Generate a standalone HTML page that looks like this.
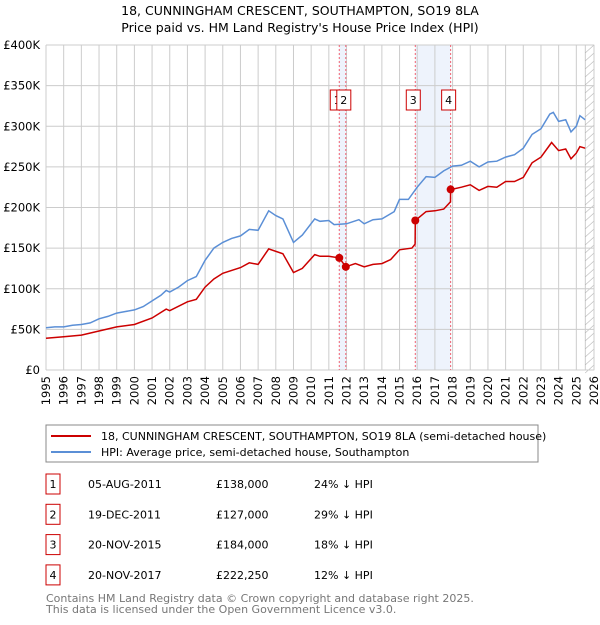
<!DOCTYPE html>
<html><head><meta charset="utf-8"><style>
body{margin:0;background:#fff;font-family:"Liberation Sans","DejaVu Sans",sans-serif;}
svg text{font-family:"DejaVu Sans","Liberation Sans",sans-serif;}
</style></head><body>
<svg id="c" width="600" height="620" xmlns="http://www.w3.org/2000/svg">
<text x="300" y="15" text-anchor="middle" font-size="12.5">18, CUNNINGHAM CRESCENT, SOUTHAMPTON, SO19 8LA</text>
<text x="300" y="32" text-anchor="middle" font-size="12.5">Price paid vs. HM Land Registry's House Price Index (HPI)</text>
<g id="plot"></g>
<rect x="46" y="425" width="492" height="37" fill="#fff" stroke="#888"/>
<line x1="51" y1="436" x2="91" y2="436" stroke="#cc0000" stroke-width="2"/>
<text x="101" y="440" font-size="11">18, CUNNINGHAM CRESCENT, SOUTHAMPTON, SO19 8LA (semi-detached house)</text>
<line x1="51" y1="452" x2="91" y2="452" stroke="#5b8fd6" stroke-width="2"/>
<text x="101" y="456" font-size="11">HPI: Average price, semi-detached house, Southampton</text>
<g id="table" font-size="11"></g>
<text x="46" y="602" font-size="11" fill="#777">Contains HM Land Registry data © Crown copyright and database right 2025.</text>
<text x="46" y="613" font-size="11" fill="#777">This data is licensed under the Open Government Licence v3.0.</text>
</svg>
<script>
const hpiYears=[1995,1995.5,1996,1996.5,1997,1997.5,1998,1998.5,1999,1999.5,2000,2000.5,2001,2001.5,2001.8,2002,2002.5,2003,2003.5,2004,2004.5,2005,2005.5,2006,2006.5,2007,2007.6,2008,2008.4,2009,2009.5,2010.2,2010.5,2011,2011.3,2012,2012.7,2013,2013.5,2014,2014.7,2015,2015.5,2016,2016.5,2017,2017.5,2018,2018.5,2019,2019.5,2020,2020.5,2021,2021.5,2022,2022.5,2023,2023.5,2023.7,2024,2024.4,2024.7,2025,2025.2,2025.5];
const hpiValues=[52,53,53,55,56,58,63,66,70,72,74,78,85,92,98,96,102,110,115,135,150,157,162,165,173,172,196,190,186,157,166,186,183,184,179,180,185,180,185,186,195,210,210,225,238,237,245,251,252,257,250,256,257,262,265,273,290,297,315,317,306,308,293,300,313,308];
const redYears=[1995,1996,1997,1998,1999,2000,2001,2001.8,2002,2003,2003.5,2004,2004.5,2005,2006,2006.5,2007,2007.6,2008.4,2009,2009.5,2010.2,2010.5,2011,2011.59,2011.96,2012.5,2013,2013.5,2014,2014.5,2015,2015.7,2015.88,2015.89,2016.5,2017,2017.5,2017.88,2017.89,2018.5,2019,2019.5,2020,2020.5,2021,2021.5,2022,2022.5,2023,2023.6,2024,2024.4,2024.7,2025,2025.2,2025.5];
const redValues=[39,41,43,48,53,56,64,75,73,84,87,102,112,119,126,132,130,149,143,120,125,142,140,140,138,127,131,127,130,131,136,148,150,155,184,195,196,198,207,222,225,228,221,226,225,232,232,237,255,262,280,270,272,260,267,275,273];
const saleYears=[2011.59,2011.96,2015.89,2017.89];
const salePrices=[138,127,184,222.25];
const saleLabels=["1","2","3","4"];
const saleDates=["05-AUG-2011","19-DEC-2011","20-NOV-2015","20-NOV-2017"];
const salePriceText=["£138,000","£127,000","£184,000","£222,250"];
const saleHpiText=["24% ↓ HPI","29% ↓ HPI","18% ↓ HPI","12% ↓ HPI"];
const yTicks=[0,50,100,150,200,250,300,350,400];
const yTickLabels=["£0","£50K","£100K","£150K","£200K","£250K","£300K","£350K","£400K"];
const NS="http://www.w3.org/2000/svg";
const X0=46,X1=594,Y0=370,Y1=45;
const xs=y=>X0+(y-1995)/(2026-1995)*(X1-X0);
const ys=v=>Y0-v/400*(Y0-Y1);
const plot=document.getElementById('plot');
function mk(tag,at,parent){const e=document.createElementNS(NS,tag);for(const k in at)e.setAttribute(k,at[k]);(parent||plot).appendChild(e);return e;}
let e;
e=mk('rect',{x:X0,y:Y1,width:X1-X0,height:Y0-Y1,fill:'#fff'});


e=mk('rect',{x:xs(saleYears[0]),y:Y1,width:xs(saleYears[1])-xs(saleYears[0]),height:Y0-Y1,fill:'#eef3fc'});


e=mk('rect',{x:xs(saleYears[2]),y:Y1,width:xs(saleYears[3])-xs(saleYears[2]),height:Y0-Y1,fill:'#eef3fc'});


e=mk('rect',{x:xs(2025.5),y:Y1,width:X1-xs(2025.5),height:Y0-Y1,fill:'#fff',stroke:'#999','stroke-width':0.5});


for(let yy=Y1;yy<Y0;yy+=8){mk('line',{x1:xs(2025.5),y1:yy+8,x2:X1,y2:yy,stroke:'#bbb','stroke-width':0.6});}
for(let yr=1995;yr<=2026;yr++){
 e=mk('line',{x1:xs(yr),y1:Y1,x2:xs(yr),y2:Y0,stroke:'#ccc','stroke-width':1});
 
 
 const t=mk('text',{x:0,y:0,'font-size':11.5,'text-anchor':'end',transform:`translate(${xs(yr)+4},${Y0+6}) rotate(-90)`});
 t.textContent=yr;
 
 
}
yTicks.forEach((v,i)=>{
 e=mk('line',{x1:X0,y1:ys(v),x2:X1,y2:ys(v),stroke:'#ccc','stroke-width':1});
 
 
 const t=mk('text',{x:X0-6,y:ys(v)+4,'font-size':11.5,'text-anchor':'end'});
 t.textContent=yTickLabels[i];
 
 
});
saleYears.forEach((y,i)=>{
 e=mk('line',{x1:xs(y),y1:Y1,x2:xs(y),y2:Y0,stroke:'#f06070','stroke-width':1,'stroke-dasharray':'2,2'});
 
 
});
const path=(xa,va)=>xa.map((y,i)=>(i?'L':'M')+xs(y).toFixed(1)+','+ys(va[i]).toFixed(1)).join('');
e=mk('path',{d:path(hpiYears,hpiValues),fill:'none',stroke:'#5b8fd6','stroke-width':1.5});


e=mk('path',{d:path(redYears,redValues),fill:'none',stroke:'#cc0000','stroke-width':1.5});


saleYears.forEach((y,i)=>{
 e=mk('circle',{cx:xs(y),cy:ys(salePrices[i]),r:4,fill:'#cc0000'});
 
 
 const bxx=xs(y)-9;
 e=mk('rect',{x:bxx,y:90,width:14,height:20,fill:'#fff',stroke:'#cc0000','stroke-width':1});
 
 
 const t=mk('text',{x:bxx+7,y:104,'font-size':11,'text-anchor':'middle'});
 t.textContent=saleLabels[i];
 
 
});
const tb=document.getElementById('table');
saleLabels.forEach((l,i)=>{
 const cy=484+i*30.3;
 e=mk('rect',{x:46,y:cy-10,width:14,height:20,fill:'#fff',stroke:'#cc0000'},tb);
 
 
 const cells=[[53,l,'middle'],[88,saleDates[i],'start'],[216,salePriceText[i],'start'],[314,saleHpiText[i],'start']];
 cells.forEach(c=>{const t=mk('text',{x:c[0],y:cy+4,'text-anchor':c[2]},tb);t.textContent=c[1];
 
 });
});
</script>
</body></html>
